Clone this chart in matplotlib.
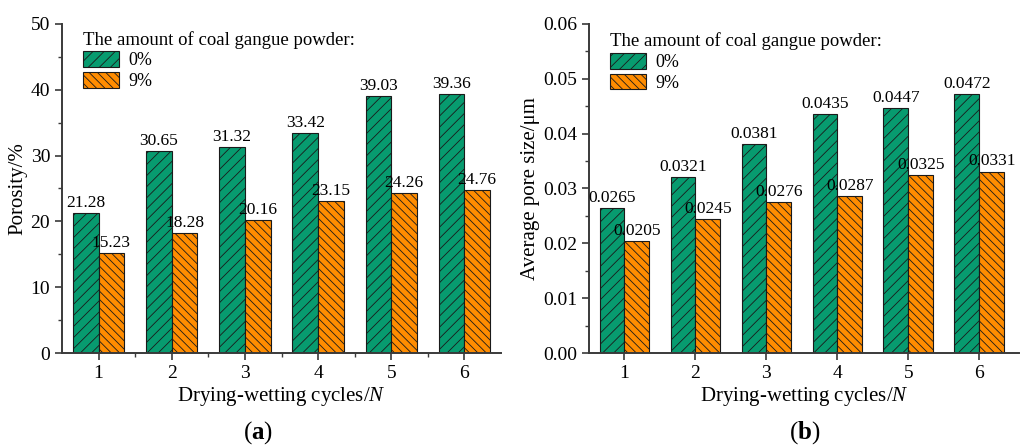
import numpy as np
import matplotlib
matplotlib.use('Agg')
import matplotlib.pyplot as plt
from matplotlib.ticker import MultipleLocator, FormatStrFormatter

plt.rcParams['font.family'] = ['Liberation Serif', 'DejaVu Serif']
plt.rcParams['mathtext.fontset'] = 'custom'
plt.rcParams['mathtext.rm'] = 'Liberation Serif'
plt.rcParams['mathtext.it'] = 'Liberation Serif:italic'
plt.rcParams['mathtext.bf'] = 'Liberation Serif:bold'
plt.rcParams['hatch.linewidth'] = 0.6

cycles = [1, 2, 3, 4, 5, 6]
porosity_0 = [21.28, 30.65, 31.32, 33.42, 39.03, 39.36]
porosity_9 = [15.23, 18.28, 20.16, 23.15, 24.26, 24.76]
pore_0 = [0.0265, 0.0321, 0.0381, 0.0435, 0.0447, 0.0472]
pore_9 = [0.0205, 0.0245, 0.0276, 0.0287, 0.0325, 0.0331]
series_labels = ['0%', '9%']
legend_title = 'The amount of coal gangue powder:'

green = '#079B6F'
orange = '#FF8C00'
axis_col = '#3a3a3a'

fig = plt.figure(figsize=(10.23, 4.46), dpi=100)
ax1 = fig.add_axes([62/1023, 1-353/446, 439/1023, 329/446])
ax2 = fig.add_axes([589/1023, 1-353/446, 430/1023, 329/446])

w = 0.35
x = np.array(cycles)


def draw(ax, y0, y9, fmt, ymax, major, xmax, xminor, leg_y):
    b0 = ax.bar(x - w/2, y0, w, color=green, edgecolor='#1a1a1a', linewidth=0.8,
                hatch='///', label=series_labels[0])
    b9 = ax.bar(x + w/2, y9, w, color=orange, edgecolor='#1a1a1a', linewidth=0.8,
                hatch='\\\\\\\\', label=series_labels[1])
    for bars, vals in ((b0, y0), (b9, y9)):
        for r, v in zip(bars, vals):
            ax.annotate(fmt.format(v), (r.get_x() + r.get_width()/2, r.get_height()),
                        xytext=(0, 1.5), textcoords='offset points',
                        ha='center', va='bottom', fontsize=12.5)
    ax.set_xlim(0.5, xmax)
    ax.set_ylim(0, ymax)
    ax.set_xticks(cycles)
    ax.yaxis.set_major_locator(MultipleLocator(major))
    ax.yaxis.set_minor_locator(MultipleLocator(major/2))
    if xminor:
        ax.set_xticks([c + 0.5 for c in cycles[:-1]], minor=True)
    for s in ('top', 'right'):
        ax.spines[s].set_visible(False)
    for s in ('left', 'bottom'):
        ax.spines[s].set_color(axis_col)
        ax.spines[s].set_linewidth(1.4)
    ax.tick_params(which='major', direction='out', length=5, width=1.2,
                   color=axis_col, labelsize=14)
    ax.tick_params(which='minor', direction='out', length=3, width=1.0, color=axis_col)
    ax.set_xlabel('Drying-wetting cycles/$\\it{N}$', fontsize=15, labelpad=2)
    ax.legend(title=legend_title, loc='upper left', frameon=False,
              fontsize=13, title_fontsize=13.5, alignment='left',
              handlelength=2.0, handleheight=0.95, labelspacing=0.15,
              handletextpad=0.5, borderaxespad=0.0, borderpad=0.2,
              bbox_to_anchor=(0.04, leg_y))


draw(ax1, porosity_0, porosity_9, '{:.2f}', 50, 10, 6.5, True, 0.99)
draw(ax2, pore_0, pore_9, '{:.4f}', 0.06, 0.01, 6.56, False, 0.985)
ax1.set_ylabel('Porosity/%', fontsize=15, labelpad=2)
ax2.set_ylabel('Average pore size/\u03bcm', fontsize=15, labelpad=2)
ax2.yaxis.set_major_formatter(FormatStrFormatter('%.2f'))

fig.text(258/1023, 1-433/446, '($\\bf{a}$)', ha='center', va='center', fontsize=18)
fig.text(805/1023, 1-433/446, '($\\bf{b}$)', ha='center', va='center', fontsize=18)

fig.savefig('out.png', dpi=100)
